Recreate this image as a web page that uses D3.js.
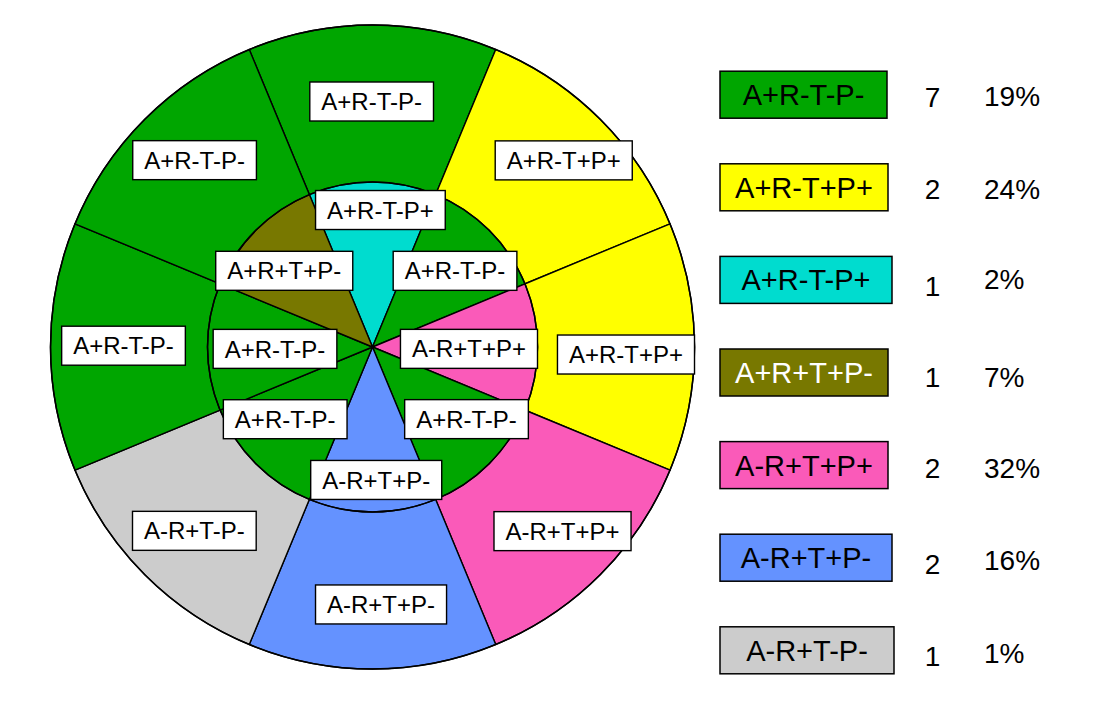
<!DOCTYPE html>
<html>
<head>
<meta charset="utf-8">
<script src="https://cdn.jsdelivr.net/npm/d3@7"></script>
<style>
  html, body { margin: 0; padding: 0; background: #ffffff; }
  svg { display: block; }
  text { font-family: "Liberation Sans", Arial, sans-serif; }
</style>
</head>
<body>
<svg id="chart" width="1103" height="719"></svg>
<script>
// ---------------- data ----------------
const categories = ["A+R-T-P-", "A+R-T+P+", "A+R-T-P+", "A+R+T+P-", "A-R+T+P+", "A-R+T+P-", "A-R+T-P-"];
const counts     = [7, 2, 1, 1, 2, 2, 1];
const percents   = ["19%", "24%", "2%", "7%", "32%", "16%", "1%"];
// ring slices, clockwise starting with the top slice
const outerRing  = ["A+R-T-P-", "A+R-T+P+", "A+R-T+P+", "A-R+T+P+", "A-R+T+P-", "A-R+T-P-", "A+R-T-P-", "A+R-T-P-"];
const innerRing  = ["A+R-T-P+", "A+R-T-P-", "A-R+T+P+", "A+R-T-P-", "A-R+T+P-", "A+R-T-P-", "A+R-T-P-", "A+R+T+P-"];

// ---------------- styles / layout ----------------
const palette = ["#00a600", "#ffff00", "#00dccf", "#787800", "#fa5ab9", "#6492ff", "#cccccc"];
const legendTextColor = ["#000", "#000", "#000", "#fff", "#000", "#000", "#000"];
const legendBoxW = [167, 168, 172, 168, 168, 172, 174];
const countDy = [2.3, 1.3, 5.7, 4.2, 2.4, 6.4, 5.7];
const pctDy   = [1.3, 1.3, -0.8, 4.2, 2.4, 2.0, 2.3];
// label placement: [radius, angle shift in degrees from slice middle]
const outerLabelPos = [[245.5, -0.2], [267.2, 0.7], [253.6, 1.7], [264.6, -0.9], [257.6, -1.9], [256, -0.9], [249, 0.3], [258, 1.4]];
const innerLabelPos = [[137.2, 3.3], [112.3, 2.3], [96.5, 1.1], [118.5, -7.5], [133, -1.6], [113.3, 5.4], [97.5, -1.1], [116.6, -4.2]];

const cx = 372.5, cy = 347, R = 322, r = 165;
const FONT = '"Liberation Sans", Arial, sans-serif';

const svg = d3.select("#chart");
const color = d3.scaleOrdinal().domain(categories).range(palette);

const pie = d3.pie().value(() => 1).sort(null)
  .startAngle(-Math.PI / 8).endAngle(2 * Math.PI - Math.PI / 8);

const g = svg.append("g").attr("transform", `translate(${cx},${cy})`);

const outerArc = d3.arc().innerRadius(0).outerRadius(R);
const innerArc = d3.arc().innerRadius(0).outerRadius(r);

const outerData = pie(outerRing);
const innerData = pie(innerRing);

g.append("g").selectAll("path").data(outerData).join("path")
  .attr("d", outerArc)
  .attr("fill", d => color(d.data))
  .attr("stroke", "#000").attr("stroke-width", 1.4).attr("stroke-linejoin", "round");

g.append("circle").attr("r", R).attr("fill", "none").attr("stroke", "#000").attr("stroke-width", 1.5);

g.append("g").selectAll("path").data(innerData).join("path")
  .attr("d", innerArc)
  .attr("fill", d => color(d.data))
  .attr("stroke", "#000").attr("stroke-width", 1.4).attr("stroke-linejoin", "round");

g.append("circle").attr("r", r).attr("fill", "none").attr("stroke", "#000").attr("stroke-width", 1.5);

function labelPoint(d, pos) {
  const ang = (d.startAngle + d.endAngle) / 2 + pos[1] * Math.PI / 180;
  return d3.arc().innerRadius(pos[0]).outerRadius(pos[0]).centroid({ startAngle: ang, endAngle: ang });
}

function drawLabels(data, posArr) {
  const lg = g.append("g").selectAll("g").data(data).join("g")
    .attr("transform", (d, i) => {
      const p = labelPoint(d, posArr[i]);
      return `translate(${p[0]},${p[1]})`;
    });
  const rects = lg.append("rect").attr("fill", "#fff").attr("stroke", "#000").attr("stroke-width", 1.4);
  const texts = lg.append("text")
    .attr("text-anchor", "middle")
    .attr("dy", "0.36em")
    .attr("font-size", 24)
    .attr("font-family", FONT)
    .attr("fill", "#000")
    .text(d => d.data);
  texts.each(function (d, i) {
    const w = this.getComputedTextLength() + 23;
    d3.select(rects.nodes()[i])
      .attr("x", -w / 2).attr("y", -19.5).attr("width", w).attr("height", 39);
  });
}
drawLabels(outerData, outerLabelPos);
drawLabels(innerData, innerLabelPos);

// ---------------- legend ----------------
const rowY = d3.scaleLinear().domain([0, categories.length - 1]).range([94.7, 650.3]);
const legend = svg.append("g").selectAll("g").data(categories).join("g")
  .attr("transform", (d, i) => `translate(0,${rowY(i)})`);

legend.append("rect")
  .attr("x", 720).attr("y", -23.5)
  .attr("width", (d, i) => legendBoxW[i]).attr("height", 47)
  .attr("fill", d => color(d))
  .attr("stroke", "#000").attr("stroke-width", 1.5);

legend.append("text")
  .attr("x", (d, i) => 720 + legendBoxW[i] / 2)
  .attr("dy", "0.36em")
  .attr("text-anchor", "middle")
  .attr("font-size", 29)
  .attr("font-family", FONT)
  .attr("fill", (d, i) => legendTextColor[i])
  .text(d => d);

legend.append("text")
  .attr("x", 932.5)
  .attr("y", (d, i) => countDy[i])
  .attr("dy", "0.36em")
  .attr("text-anchor", "middle")
  .attr("font-size", 28)
  .attr("font-family", FONT)
  .attr("fill", "#000")
  .text((d, i) => counts[i]);

legend.append("text")
  .attr("x", 984)
  .attr("y", (d, i) => pctDy[i])
  .attr("dy", "0.36em")
  .attr("text-anchor", "start")
  .attr("font-size", 28)
  .attr("font-family", FONT)
  .attr("fill", "#000")
  .text((d, i) => percents[i]);
</script>
</body>
</html>
